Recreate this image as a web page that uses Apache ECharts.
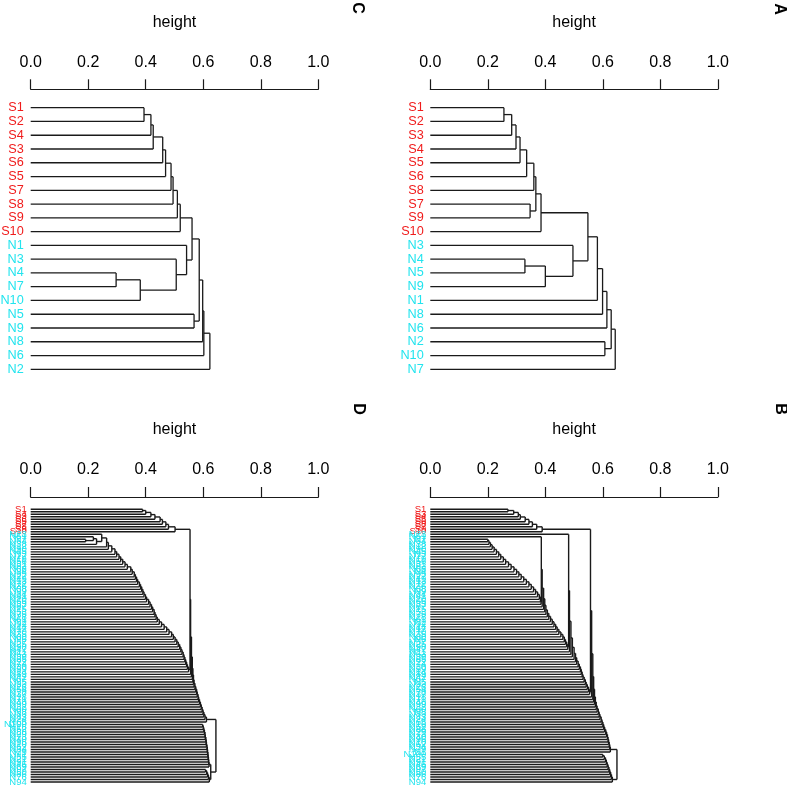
<!DOCTYPE html>
<html><head><meta charset="utf-8">
<script src="https://cdn.jsdelivr.net/npm/echarts@6/dist/echarts.min.js"></script>
<style>html,body{margin:0;padding:0;background:#fff}#chart{width:787px;height:787px}</style>
</head><body><div id="chart"></div>
<script>
// ---------- data ----------
const tickLabels = ['0.0','0.2','0.4','0.6','0.8','1.0'];
const axisTitle = 'height';

// Panel C (top-left) leaf order and merges [leafInClusterA, leafInClusterB, height]
const labelsC = ['S1','S2','S4','S3','S6','S5','S7','S8','S9','S10','N1','N3','N4','N7','N10','N5','N9','N8','N6','N2'];
const mergesC = [[1,2,.394],[2,3,.418],[3,4,.426],[4,5,.459],[5,6,.469],[6,7,.488],[7,8,.495],[8,9,.510],[9,10,.520],
  [13,14,.297],[14,15,.381],[12,13,.506],[11,12,.542],[10,11,.561],[16,17,.568],[1,16,.586],[1,18,.598],[1,19,.602],[1,20,.623]];

// Panel A (top-right)
const labelsA = ['S1','S2','S3','S4','S5','S6','S8','S7','S9','S10','N3','N4','N5','N9','N1','N8','N6','N2','N10','N7'];
const mergesA = [[1,2,.256],[2,3,.283],[3,4,.298],[4,5,.312],[5,6,.335],[8,9,.347],[6,7,.360],[7,8,.367],[9,10,.385],
  [12,13,.329],[13,14,.400],[11,12,.496],[10,11,.548],[1,15,.581],[1,16,.599],[1,17,.614],[18,19,.607],[1,18,.629],[1,20,.643]];

// Panel D (bottom-left)
const labelsD = ('S1 S2 S4 S3 S6 S5 S7 S8 S9 S10 ' +
  'N23 N51 N7 N64 N38 N12 N90 N45 N3 N77 N19 N56 N31 N82 N68 N4 N95 N27 N49 N13 ' +
  'N72 N36 N58 N9 N84 N41 N20 N66 N33 N87 N15 N53 N75 N28 N61 N2 N92 N44 N17 N70 ' +
  'N35 N80 N6 N57 N25 N98 N47 N11 N63 N39 N85 N22 N74 N30 N59 N14 N89 N42 N67 N5 ' +
  'N93 N26 N54 N78 N37 N18 N71 N48 N99 N32 N60 N8 N83 N43 N24 N65 N100 N16 N52 N88 ' +
  'N29 N73 N40 N96 N10 N62 N34 N79 N1 N55 N21 N91 N46 N69 N97 N50 N86 N76 N81 N94').split(' ');
const mergesD = [
  [1,2,.389],[2,3,.400],[3,4,.418],[4,5,.432],[5,6,.450],[6,7,.458],[7,8,.470],[8,9,.479],[9,10,.502],
  [13,14,.191],[12,13,.218],[15,14,.229],[11,12,.247],[16,15,.264],[17,16,.270],[18,17,.282],[19,18,.293],
  [20,19,.299],[21,20,.307],[22,21,.313],[23,22,.320],[24,23,.328],[25,24,.336],[26,25,.348],[27,26,.353],[28,27,.360],[29,28,.364],
  [30,29,.368],[31,30,.372],[32,31,.378],[33,32,.382],[34,33,.386],[35,34,.390],[36,35,.394],[37,36,.399],[38,37,.403],[39,38,.410],
  [40,39,.415],[41,40,.420],[42,41,.424],[43,42,.429],[44,43,.432],[45,44,.436],[46,45,.440],[47,46,.447],[48,47,.455],[49,48,.464],
  [50,49,.473],[51,50,.481],[52,51,.490],[53,52,.496],[54,53,.502],[55,54,.508],[56,55,.513],[57,56,.518],[58,57,.522],[59,58,.526],
  [60,59,.530],[61,60,.533],[62,61,.536],[63,62,.539],[64,63,.542],[65,64,.545],[66,65,.549],
  [10,66,.554],
  [67,66,.556],[68,67,.559],[69,68,.562],[70,69,.564],[71,70,.566],[72,71,.568],[73,72,.571],[74,73,.574],[75,74,.577],[76,75,.579],
  [77,76,.582],[78,77,.584],[79,78,.587],[80,79,.590],[81,80,.593],[82,81,.596],[83,82,.599],[84,83,.602],[85,84,.606],[86,85,.611],
  [87,88,.598],[89,88,.600],[90,89,.602],[91,90,.604],[92,91,.606],[93,92,.607],[94,93,.609],[95,94,.610],[96,95,.611],[97,96,.613],
  [98,97,.614],[99,98,.615],[100,99,.616],[101,100,.617],[102,101,.618],[103,102,.619],[104,103,.620],
  [105,106,.608],[107,106,.612],[108,107,.615],[109,108,.618],[110,109,.621],
  [104,105,.626],
  [86,87,.644]];

// Panel B (bottom-right)
const labelsB = ('S1 S2 S3 S4 S5 S6 S8 S7 S9 S10 ' +
  'N23 N51 N7 N64 N38 N12 N90 N45 N3 N77 N19 N56 N31 N82 N68 N4 N95 N27 N49 N13 ' +
  'N72 N36 N58 N9 N84 N41 N20 N66 N33 N87 N15 N53 N75 N28 N61 N2 N92 N44 N17 N70 ' +
  'N35 N80 N6 N57 N25 N98 N47 N11 N63 N39 N85 N22 N74 N30 N59 N14 N89 N42 N67 N5 ' +
  'N93 N26 N54 N78 N37 N18 N71 N48 N99 N32 N60 N8 N83 N43 N24 N65 N16 N52 N88 N29 ' +
  'N73 N40 N96 N10 N62 N34 N79 N1 N100 N55 N21 N91 N46 N69 N97 N50 N86 N76 N81 N94').split(' ');
const mergesB = [
  [1,2,.270],[3,2,.290],[4,3,.306],[5,4,.313],[6,5,.330],[7,6,.343],[8,7,.355],[9,8,.370],[10,9,.389],
  [13,14,.200],[15,14,.204],[16,15,.209],[17,16,.215],[18,17,.222],[19,18,.230],[20,19,.238],[21,20,.245],[22,21,.254],[23,22,.262],
  [24,23,.272],[25,24,.281],[26,25,.291],[27,26,.300],[28,27,.308],[29,28,.316],[30,29,.325],[31,30,.334],[32,31,.343],[33,32,.351],
  [34,33,.359],[35,34,.366],[36,35,.373],[37,36,.379],[38,37,.383],[39,38,.385],
  [12,39,.386],
  [40,39,.389],[41,40,.394],[42,41,.398],[43,42,.402],[44,43,.407],[45,44,.412],[46,45,.418],[47,46,.424],[48,47,.430],[49,48,.436],
  [50,49,.441],[51,50,.447],[52,51,.454],[53,52,.461],[54,53,.466],[55,54,.470],[56,55,.474],[57,56,.478],
  [11,57,.481],
  [58,57,.484],[59,58,.489],[60,59,.494],[61,60,.500],[62,61,.505],[63,62,.509],[64,63,.514],[65,64,.518],[66,65,.522],[67,66,.525],
  [68,67,.528],[69,68,.531],[70,69,.535],[71,70,.539],[72,71,.542],[73,72,.546],[74,73,.550],[75,74,.554],
  [10,75,.557],
  [76,75,.561],[77,76,.565],[78,77,.568],[79,78,.571],[80,79,.574],[81,80,.577],[82,81,.580],[83,82,.584],[84,83,.587],[85,84,.590],
  [86,85,.594],[87,86,.597],[88,87,.600],[89,88,.603],[90,89,.606],[91,90,.610],[92,91,.613],[93,92,.616],[94,93,.618],[95,94,.620],
  [96,95,.622],[97,96,.624],[98,97,.626],
  [99,100,.600],[101,100,.605],[102,101,.609],[103,102,.612],[104,103,.615],[105,104,.618],[106,105,.621],[107,106,.624],[108,107,.627],[109,108,.630],[110,109,.633],
  [98,99,.649]];

// ---------- layout / style ----------
const RED = '#f01c1c', CYAN = '#22e4ee', INK = '#1a1a1a';
const FONT = '"Liberation Sans", Arial, Helvetica, sans-serif';
const panels = [
  {labels: labelsC, merges: mergesC, left: 30.7, top: 107.7, bottom: 369.3, axisY: 89.3, letter: 'C', lx: 357, ly: 8, fs: 12.7, lm: 7, lw: 1.3},
  {labels: labelsA, merges: mergesA, left: 430.3, top: 107.7, bottom: 369.3, axisY: 89.3, letter: 'A', lx: 779, ly: 9, fs: 12.7, lm: 6.6, lw: 1.3},
  {labels: labelsD, merges: mergesD, left: 30.7, top: 509.3, bottom: 782, axisY: 497, letter: 'D', lx: 358, ly: 409, fs: 9.5, lm: 4, lw: 1.4},
  {labels: labelsB, merges: mergesB, left: 430.3, top: 509.3, bottom: 782, axisY: 497, letter: 'B', lx: 780, ly: 409, fs: 9.5, lm: 4, lw: 1.4}
];
const PW = 287.6;

function buildSegments(n, merges) {
  const clusters = [], clusterOf = [], members = [];
  for (let i = 1; i <= n; i++) { clusters.push({pos: i, h: 0}); clusterOf[i] = i - 1; members.push([i]); }
  const segs = [];
  merges.forEach(([a, b, h]) => {
    const ca = clusterOf[a], cb = clusterOf[b];
    const A = clusters[ca], B = clusters[cb];
    segs.push([A.h, A.pos, h, A.pos]);
    segs.push([B.h, B.pos, h, B.pos]);
    segs.push([h, A.pos, h, B.pos]);
    const id = clusters.length;
    clusters.push({pos: (A.pos + B.pos) / 2, h: h});
    const mem = members[ca].concat(members[cb]);
    members[id] = mem;
    mem.forEach(l => { clusterOf[l] = id; });
  });
  return segs;
}

const grid = [], xAxis = [], yAxis = [], series = [], graphic = [];
panels.forEach((p, i) => {
  const n = p.labels.length;
  grid.push({left: p.left, top: p.top, width: PW, height: p.bottom - p.top, outerBoundsMode: 'none', containLabel: false});
  xAxis.push({
    type: 'value', gridIndex: i, position: 'top', min: 0, max: 1, interval: 0.2,
    offset: p.top - p.axisY,
    axisLine: {show: true, lineStyle: {color: INK, width: 1.2}},
    axisTick: {show: true, length: 10, lineStyle: {color: INK, width: 1.2}},
    splitLine: {show: false},
    axisLabel: {fontSize: 16, color: '#000', fontFamily: FONT, margin: 19,
      formatter: v => tickLabels[Math.round(v / 0.2)]},
    name: axisTitle, nameLocation: 'middle', nameGap: 59,
    nameTextStyle: {fontSize: 16, color: '#000', fontFamily: FONT}
  });
  yAxis.push({
    type: 'value', gridIndex: i, min: 1, max: n, interval: 1, inverse: true,
    axisLine: {show: false}, axisTick: {show: false}, splitLine: {show: false},
    axisLabel: {show: true, fontSize: p.fs, fontFamily: FONT, margin: p.lm, hideOverlap: false,
      showMinLabel: true, showMaxLabel: true,
      formatter: v => p.labels[Math.round(v) - 1],
      color: v => (p.labels[Math.round(Number(v)) - 1] || '').charAt(0) === 'S' ? RED : CYAN}
  });
  series.push({
    type: 'custom', xAxisIndex: i, yAxisIndex: i, silent: true, animation: false, clip: false,
    data: buildSegments(n, p.merges),
    encode: {x: [0, 2], y: [1, 3]},
    renderItem: (params, api) => {
      const p1 = api.coord([api.value(0), api.value(1)]);
      const p2 = api.coord([api.value(2), api.value(3)]);
      return {type: 'line', shape: {x1: p1[0], y1: p1[1], x2: p2[0], y2: p2[1]},
        style: {stroke: INK, lineWidth: p.lw, fill: null}};
    }
  });
  graphic.push({type: 'text', x: p.lx, y: p.ly, rotation: -Math.PI / 2,
    style: {text: p.letter, fill: '#000', font: 'bold 16px ' + FONT,
      align: 'center', verticalAlign: 'middle', textAlign: 'center', textVerticalAlign: 'middle'}});
});

const chart = echarts.init(document.getElementById('chart'), null, {renderer: 'canvas'});
chart.setOption({animation: false, backgroundColor: '#fff', grid, xAxis, yAxis, series, graphic});
</script></body></html>
